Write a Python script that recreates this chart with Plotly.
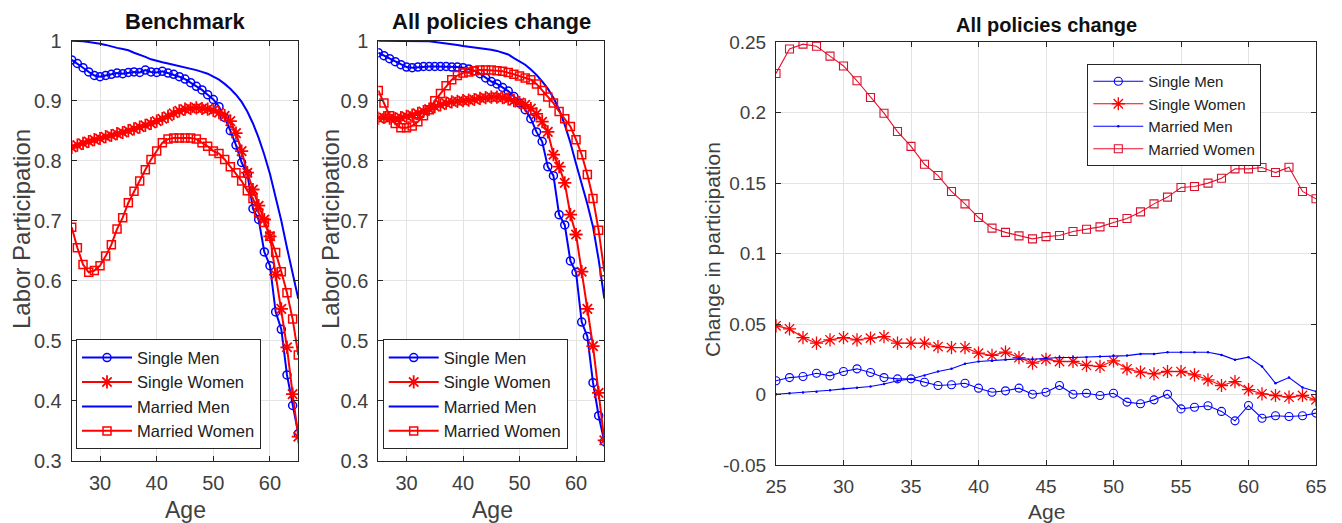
import plotly.graph_objects as go

W, H = 1342, 523
OFF = 8  # page body margin offset applied by the browser

AGES = list(range(25, 66))

# ---- Benchmark panel ----
SM1 = [0.968, 0.962, 0.955, 0.948, 0.942, 0.940, 0.942, 0.944, 0.946, 0.945,
       0.947, 0.948, 0.947, 0.951, 0.948, 0.947, 0.949, 0.946, 0.944, 0.940,
       0.936, 0.930, 0.924, 0.918, 0.910, 0.902, 0.890, 0.872, 0.850, 0.826,
       0.797, 0.778, 0.720, 0.702, 0.648, 0.625, 0.548, 0.519, 0.443, 0.392, 0.345]
SW1 = [0.822, 0.826, 0.829, 0.832, 0.835, 0.837, 0.840, 0.842, 0.845, 0.847,
       0.850, 0.853, 0.856, 0.859, 0.862, 0.866, 0.870, 0.874, 0.879, 0.883,
       0.886, 0.887, 0.888, 0.887, 0.886, 0.884, 0.880, 0.875, 0.866, 0.846,
       0.816, 0.780, 0.752, 0.725, 0.702, 0.674, 0.610, 0.553, 0.489, 0.411, 0.340]
MM1 = [1.000, 1.000, 0.999, 0.998, 0.997, 0.995, 0.993, 0.990, 0.988, 0.986,
       0.984, 0.980, 0.977, 0.973, 0.969, 0.966, 0.964, 0.962, 0.960, 0.958,
       0.956, 0.954, 0.951, 0.948, 0.945, 0.940, 0.935, 0.928, 0.920, 0.910,
       0.898, 0.882, 0.862, 0.838, 0.810, 0.778, 0.740, 0.700, 0.655, 0.610, 0.570]
MW1 = [0.689, 0.655, 0.627, 0.614, 0.617, 0.625, 0.641, 0.660, 0.686, 0.705,
       0.730, 0.749, 0.766, 0.785, 0.802, 0.816, 0.830, 0.836, 0.838, 0.838,
       0.838, 0.838, 0.836, 0.830, 0.824, 0.816, 0.812, 0.802, 0.790, 0.780,
       0.766, 0.750, 0.737, 0.713, 0.697, 0.674, 0.647, 0.615, 0.580, 0.536, 0.476]

# ---- All policies change panel ----
SM2 = [0.980, 0.975, 0.970, 0.965, 0.960, 0.956, 0.955, 0.956, 0.957, 0.957,
       0.957, 0.957, 0.957, 0.956, 0.956, 0.955, 0.953, 0.950, 0.945, 0.938,
       0.932, 0.928, 0.922, 0.916, 0.907, 0.896, 0.885, 0.870, 0.848, 0.832,
       0.790, 0.775, 0.710, 0.693, 0.633, 0.614, 0.531, 0.507, 0.430, 0.375, 0.332]
SW2 = [0.871, 0.872, 0.871, 0.870, 0.872, 0.874, 0.876, 0.879, 0.882, 0.886,
       0.890, 0.893, 0.896, 0.898, 0.899, 0.900, 0.901, 0.902, 0.904, 0.905,
       0.906, 0.906, 0.905, 0.903, 0.900, 0.897, 0.893, 0.887, 0.878, 0.865,
       0.848, 0.810, 0.790, 0.763, 0.710, 0.677, 0.615, 0.553, 0.491, 0.413, 0.334]
MM2 = [1.000, 1.000, 1.000, 1.000, 1.000, 1.000, 1.000, 1.000, 1.000, 0.999,
       0.998, 0.997, 0.995, 0.994, 0.993, 0.991, 0.990, 0.989, 0.988, 0.987,
       0.985, 0.983, 0.980, 0.977, 0.971, 0.965, 0.960, 0.952, 0.943, 0.932,
       0.920, 0.905, 0.885, 0.860, 0.830, 0.795, 0.763, 0.728, 0.690, 0.635, 0.570]
MW2 = [0.917, 0.896, 0.875, 0.862, 0.855, 0.855, 0.858, 0.865, 0.875, 0.885,
       0.900, 0.912, 0.925, 0.935, 0.942, 0.946, 0.948, 0.950, 0.951, 0.951,
       0.951, 0.950, 0.949, 0.947, 0.944, 0.941, 0.938, 0.935, 0.928, 0.917,
       0.906, 0.896, 0.882, 0.870, 0.857, 0.835, 0.810, 0.777, 0.737, 0.684, 0.615]

# ---- Change in participation panel ----
DSM = [0.0097, 0.0120, 0.0128, 0.0151, 0.0132, 0.0163, 0.0182, 0.0156, 0.0120, 0.0111,
       0.0111, 0.0087, 0.0064, 0.0069, 0.0080, 0.0045, 0.0016, 0.0026, 0.0045, 0.0002,
       0.0016, 0.0064, 0.0002, 0.0009, -0.0007, 0.0009, -0.0054, -0.0066, -0.0038, 0.0002,
       -0.0102, -0.0090, -0.0080, -0.0120, -0.0187, -0.0078, -0.0168, -0.0151, -0.0156, -0.0151, -0.0132]
DSW = [0.0487, 0.0466, 0.0404, 0.0364, 0.0388, 0.0404, 0.0388, 0.0400, 0.0410, 0.0364,
       0.0364, 0.0364, 0.0340, 0.0333, 0.0333, 0.0293, 0.0277, 0.0300, 0.0262, 0.0222,
       0.0250, 0.0234, 0.0234, 0.0206, 0.0199, 0.0239, 0.0182, 0.0158, 0.0146, 0.0163,
       0.0163, 0.0139, 0.0104, 0.0064, 0.0092, 0.0034, 0.0005, -0.0007, -0.0019, -0.0007, -0.0038]
DMM = [0.0002, 0.0009, 0.0015, 0.0020, 0.0030, 0.0040, 0.0048, 0.0057, 0.0075, 0.0097,
       0.0110, 0.0135, 0.0163, 0.0182, 0.0218, 0.0234, 0.0239, 0.0246, 0.0253, 0.0250,
       0.0258, 0.0262, 0.0262, 0.0265, 0.0270, 0.0274, 0.0276, 0.0288, 0.0288, 0.0300,
       0.0300, 0.0300, 0.0300, 0.0281, 0.0246, 0.0265, 0.0199, 0.0080, 0.0120, 0.0050, 0.0021]
DMW = [0.2277, 0.2450, 0.2485, 0.2470, 0.2400, 0.2330, 0.2225, 0.2106, 0.1995, 0.1865,
       0.1760, 0.1633, 0.1553, 0.1440, 0.1352, 0.1255, 0.1180, 0.1150, 0.1125, 0.1104,
       0.1120, 0.1128, 0.1156, 0.1172, 0.1189, 0.1220, 0.1248, 0.1295, 0.1352, 0.1400,
       0.1468, 0.1475, 0.1499, 0.1534, 0.1600, 0.1600, 0.1610, 0.1574, 0.1612, 0.1440, 0.1388]

SERIES_NAMES = ["Single Men", "Single Women", "Married Men", "Married Women"]

Y1_TICKS = [0.3, 0.4, 0.5, 0.6, 0.7, 0.8, 0.9, 1.0]
Y1_LABELS = ["0.3", "0.4", "0.5", "0.6", "0.7", "0.8", "0.9", "1"]
X1_TICKS = [30, 40, 50, 60]
Y3_TICKS = [-0.05, 0, 0.05, 0.1, 0.15, 0.2, 0.25]
Y3_LABELS = ["-0.05", "0", "0.05", "0.1", "0.15", "0.2", "0.25"]
X3_TICKS = [25, 30, 35, 40, 45, 50, 55, 60, 65]

BLUE = "#0000ff"
RED = "#ff0000"
FONT = "Liberation Sans, Arial, sans-serif"
AX = "#262626"
TXT = "#404040"
GRID = "#e3e3e3"


def px(x):
    return (x - OFF) / W


def py(y):
    return 1 - (y - OFF) / H


fig = go.Figure()


def add_panel(xa, ya, data, legend, big=True):
    lw = 2 if big else 1.1
    ms = 8
    sm, sw, mm, mw = data
    fig.add_trace(go.Scatter(x=AGES, y=sm, name=SERIES_NAMES[0], xaxis=xa, yaxis=ya,
                             legend=legend, mode="lines+markers",
                             line=dict(color=BLUE, width=lw),
                             marker=dict(symbol="circle-open", size=ms, color=BLUE,
                                         line=dict(width=1.5 if big else 1.1))))
    fig.add_trace(go.Scatter(x=AGES, y=sw, name=SERIES_NAMES[1], xaxis=xa, yaxis=ya,
                             legend=legend, mode="lines+markers",
                             line=dict(color=RED, width=lw),
                             marker=dict(symbol="asterisk-open", size=11, color=RED,
                                         line=dict(width=1.8 if big else 1.3, color=RED))))
    if big:
        fig.add_trace(go.Scatter(x=AGES, y=mm, name=SERIES_NAMES[2], xaxis=xa, yaxis=ya,
                                 legend=legend, mode="lines",
                                 line=dict(color=BLUE, width=lw)))
    else:
        fig.add_trace(go.Scatter(x=AGES, y=mm, name=SERIES_NAMES[2], xaxis=xa, yaxis=ya,
                                 legend=legend, mode="lines+markers",
                                 line=dict(color=BLUE, width=lw),
                                 marker=dict(symbol="circle", size=2.5, color=BLUE)))
    fig.add_trace(go.Scatter(x=AGES, y=mw, name=SERIES_NAMES[3], xaxis=xa, yaxis=ya,
                             legend=legend, mode="lines+markers",
                             line=dict(color=RED if big else "#e8102c", width=lw),
                             marker=dict(symbol="square-open", size=ms,
                                         color=RED if big else "#d8102c",
                                         line=dict(width=1.5 if big else 1.1))))


add_panel("x", "y", (SM1, SW1, MM1, MW1), "legend", True)
add_panel("x2", "y2", (SM2, SW2, MM2, MW2), "legend2", True)
add_panel("x3", "y3", (DSM, DSW, DMM, DMW), "legend3", False)

common = dict(showline=True, linecolor=AX, linewidth=1, mirror="ticks",
              ticks="inside", ticklen=5, tickcolor=AX, showgrid=True,
              gridcolor=GRID, gridwidth=1, zeroline=False, automargin=False)

xd1 = [px(71.7), px(298.3)]
xd2 = [px(378.3), px(604.3)]
xd3 = [px(776), px(1316)]
yd12 = [py(460.7), py(40.7)]
yd3 = [py(465), py(42)]

big_tick = dict(family=FONT, size=20, color=TXT)
small_tick = dict(family=FONT, size=19, color=TXT)

fig.update_layout(
    width=W, height=H,
    margin=dict(l=0, r=0, t=0, b=0, autoexpand=False),
    paper_bgcolor="white", plot_bgcolor="white",
    font=dict(family=FONT, color=TXT),
    xaxis=dict(domain=xd1, range=[25, 65], tickvals=X1_TICKS, anchor="y",
               tickfont=big_tick, ticklabelstandoff=4, **common),
    yaxis=dict(domain=yd12, range=[0.3, 1.0], tickvals=Y1_TICKS, ticktext=Y1_LABELS,
               anchor="x", tickfont=big_tick, ticklabelstandoff=5, **common),
    xaxis2=dict(domain=xd2, range=[25, 65], tickvals=X1_TICKS, anchor="y2",
                tickfont=big_tick, ticklabelstandoff=4, **common),
    yaxis2=dict(domain=yd12, range=[0.3, 1.0], tickvals=Y1_TICKS, ticktext=Y1_LABELS,
                anchor="x2", tickfont=big_tick, ticklabelstandoff=5, **common),
    xaxis3=dict(domain=xd3, range=[25, 65], tickvals=X3_TICKS, anchor="y3",
                tickfont=small_tick, ticklabelstandoff=4, **common),
    yaxis3=dict(domain=yd3, range=[-0.05, 0.25], tickvals=Y3_TICKS, ticktext=Y3_LABELS,
                anchor="x3", tickfont=small_tick, ticklabelstandoff=5, **common),
    legend=dict(x=px(76), y=py(339.3), xanchor="left", yanchor="top",
                bgcolor="white", bordercolor=AX, borderwidth=1,
                font=dict(family=FONT, size=16.5, color="#202020"),
                itemwidth=50, tracegroupgap=0),
    legend2=dict(x=px(382.7), y=py(339.3), xanchor="left", yanchor="top",
                 bgcolor="white", bordercolor=AX, borderwidth=1,
                 font=dict(family=FONT, size=16.5, color="#202020"),
                 itemwidth=50, tracegroupgap=0),
    legend3=dict(x=px(1087.3), y=py(64), xanchor="left", yanchor="top",
                 bgcolor="white", bordercolor=AX, borderwidth=1,
                 font=dict(family=FONT, size=15, color="#202020"),
                 itemwidth=50, tracegroupgap=0),
    showlegend=True,
)

ann = []


def text(x, y, s, size, bold=False, angle=0, color="#202020"):
    ann.append(dict(x=px(x), y=py(y), xref="paper", yref="paper", text=(f"<b>{s}</b>" if bold else s),
                    showarrow=False, textangle=angle, xanchor="center", yanchor="middle",
                    font=dict(family=FONT, size=size, color=color)))


text(185, 22, "Benchmark", 22, bold=True, color="#101010")
text(491, 22, "All policies change", 22, bold=True, color="#101010")
text(1046, 25, "All policies change", 20, bold=True, color="#101010")
text(21, 229, "Labor Participation", 24, angle=-90, color=TXT)
text(330, 229, "Labor Participation", 24, angle=-90, color=TXT)
text(712, 250, "Change in participation", 21, angle=-90, color=TXT)
text(185, 510, "Age", 23, color=TXT)
text(492, 510, "Age", 23, color=TXT)
text(1046, 511, "Age", 21, color=TXT)

fig.update_layout(annotations=ann)

fig.write_html("out.html")
